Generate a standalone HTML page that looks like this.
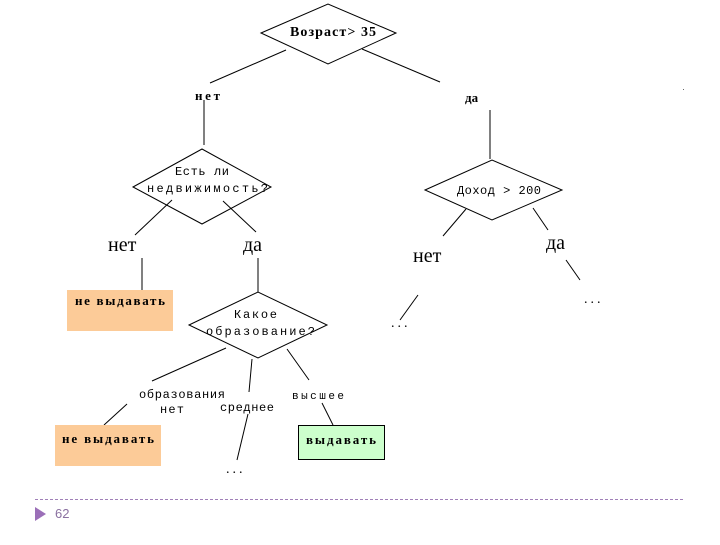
<!DOCTYPE html>
<html><head><meta charset="utf-8"><style>
body{margin:0;background:#fff;width:720px;height:540px;overflow:hidden}
text{font-family:"Liberation Serif","DejaVu Serif",serif;fill:#000}
.b{font-weight:bold}
.m{font-family:"Liberation Mono","DejaVu Sans Mono",monospace}
</style></head><body>
<svg width="720" height="540" viewBox="0 0 720 540" xmlns="http://www.w3.org/2000/svg">
<g fill="none" stroke="#000" stroke-width="1">
<polygon points="261,33 328,4 396,33 328,64" fill="#fff"/>
<line x1="286" y1="50" x2="210" y2="83"/>
<line x1="362" y1="49" x2="440" y2="82"/>
<line x1="204" y1="100" x2="204" y2="145"/>
<line x1="490" y1="110" x2="490" y2="159"/>
<polygon points="133,187 202,149 271,187 202,224" fill="#fff"/>
<line x1="172" y1="200" x2="135" y2="235"/>
<line x1="223" y1="201" x2="256" y2="232"/>
<line x1="142" y1="258" x2="142" y2="290"/>
<line x1="258" y1="258" x2="258" y2="292"/>
<polygon points="425,190 492,160 562,190 492,220" fill="#fff"/>
<line x1="466" y1="209" x2="443" y2="236"/>
<line x1="533" y1="208" x2="548" y2="230"/>
<line x1="566" y1="260" x2="580" y2="280"/>
<line x1="418" y1="295" x2="400" y2="320"/>
<polygon points="189,325 258,292 327,325 258,358" fill="#fff"/>
<line x1="226" y1="348" x2="152" y2="381"/>
<line x1="252" y1="359" x2="249" y2="392"/>
<line x1="287" y1="349" x2="309" y2="380"/>
<line x1="127" y1="404" x2="104" y2="425"/>
<line x1="248" y1="414" x2="237" y2="460"/>
<line x1="322" y1="403" x2="333" y2="425"/>
</g>
<rect x="67" y="290" width="106" height="41" fill="#fccb98"/>
<rect x="55" y="425" width="106" height="41" fill="#fccb98"/>
<rect x="298.5" y="425.5" width="86" height="34" fill="#ccffcc" stroke="#000"/>
<text x="290" y="36" class="b" font-size="14" textLength="86">Возраст&gt; 35</text>
<text x="195" y="100" class="b" font-size="13" textLength="25">нет</text>
<text x="465" y="102" class="b" font-size="13">да</text>
<text x="175" y="175" class="m" font-size="12" textLength="54">Есть ли</text>
<text x="147" y="192" class="m" font-size="12" textLength="121">недвижимость?</text>
<text x="457" y="194" class="m" font-size="12" textLength="84">Доход &gt; 200</text>
<text x="108" y="251" font-size="20">нет</text>
<text x="243" y="251" font-size="20">да</text>
<text x="413" y="262" font-size="20">нет</text>
<text x="546" y="249" font-size="20">да</text>
<text x="75" y="305" class="b" font-size="13" textLength="90">не выдавать</text>
<text x="62" y="443" class="b" font-size="13" textLength="92">не выдавать</text>
<text x="306" y="444" class="b" font-size="13" textLength="70">выдавать</text>
<text x="234" y="318" class="m" font-size="12" textLength="43">Какое</text>
<text x="206" y="335" class="m" font-size="12" textLength="109">образование?</text>
<text x="139" y="398" class="m" font-size="12" textLength="86">образования</text>
<text x="160" y="413" class="m" font-size="12" textLength="24">нет</text>
<text x="220" y="411" class="m" font-size="12" textLength="54">среднее</text>
<text x="292" y="399" class="m" font-size="11" textLength="52">высшее</text>
<text x="226" y="473" font-size="14" letter-spacing="3">...</text>
<text x="391" y="327" font-size="14" letter-spacing="3">...</text>
<text x="584" y="303" font-size="14" letter-spacing="3">...</text>
<rect x="683" y="89" width="1" height="1" fill="#666"/>
<line x1="35" y1="499.5" x2="685" y2="499.5" stroke="#a080b8" stroke-dasharray="3,2"/>
<polygon points="35,507 46,514 35,521" fill="#9b6fb8"/>
<text x="55" y="518" font-size="13" style="fill:#8a70a0;font-family:'Liberation Sans',sans-serif">62</text>
</svg>
</body></html>
